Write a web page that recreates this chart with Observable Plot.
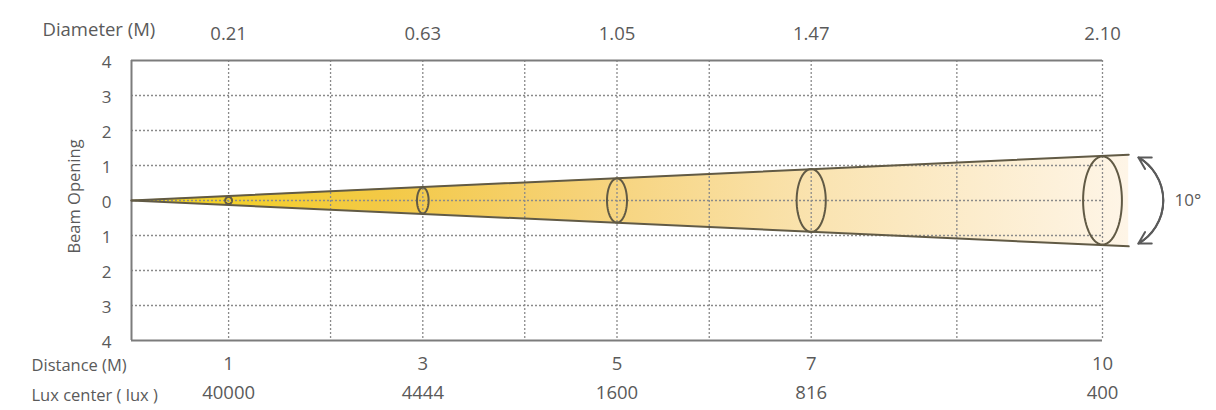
<!DOCTYPE html>
<html><head><meta charset="utf-8">
<script src="https://cdn.jsdelivr.net/npm/d3@7"></script>
<script src="https://cdn.jsdelivr.net/npm/@observablehq/plot@0.6"></script>
<style>body{margin:0;background:#fff} svg{display:block}</style>
</head><body><div id="chart"></div>
<script>
// ---- data ----
const distances = [1, 3, 5, 7, 10];
const diameters = ["0.21", "0.63", "1.05", "1.47", "2.10"];
const luxCenter = ["40000", "4444", "1600", "816", "400"];
const beamTicks = [4, 3, 2, 1, 0, -1, -2, -3, -4];
const gridX = [1, 2.05, 3, 4.05, 5, 5.95, 7, 8.5, 10];
const gridY = [3, 2, 1, 0, -1, -2, -3];
const coneDistance = [0, 10.27];
const coneHalfOpening = [0, 1.31];
const ringDistance = [1, 3, 5, 7, 10];
const ringHalfHeight = [0.1, 0.37, 0.63, 0.9, 1.26];
const ringHalfWidth = [0.035, 0.06, 0.103, 0.15, 0.2];
const beamAngle = "10°";

// ---- derived tables ----
const cone = coneDistance.map((d, i) => ({d, lo: -coneHalfOpening[i], hi: coneHalfOpening[i]}));
const ringPts = [];
ringDistance.forEach((d, i) => {
  for (let k = 0; k <= 64; k++) {
    const t = (k / 64) * 2 * Math.PI;
    ringPts.push({ring: i, x: d + ringHalfWidth[i] * Math.cos(t), y: ringHalfHeight[i] * Math.sin(t)});
  }
});
const arrowEnds = [{x: 10.37, y: 1.23}];

const grey = "#5a5a5a";
const edge = "#615a45";

const chart = Plot.plot({
  width: 1216, height: 410,
  marginLeft: 131, marginRight: 114, marginTop: 60, marginBottom: 70,
  x: {domain: [0, 10], axis: null},
  y: {domain: [-4, 4], axis: null},
  style: {fontFamily: "'Open Sans', sans-serif", color: grey, background: "#fff", overflow: "visible"},
  marks: [
    Plot.areaY(cone, {x: "d", y1: "lo", y2: "hi", fill: "url(#beamGrad)"}),
    Plot.ruleX(gridX, {stroke: "#8a8a8a", strokeWidth: 1.3, strokeDasharray: "2,2"}),
    Plot.ruleY(gridY, {stroke: "#8a8a8a", strokeWidth: 1.3, strokeDasharray: "2,2"}),
    Plot.ruleY([4, -4], {stroke: "#7c7c7c", strokeWidth: 2}),
    Plot.ruleX([0], {stroke: "#7c7c7c", strokeWidth: 2}),
    Plot.line(cone, {x: "d", y: "hi", stroke: edge, strokeWidth: 2}),
    Plot.line(cone, {x: "d", y: "lo", stroke: edge, strokeWidth: 2}),
    Plot.line(ringPts, {x: "x", y: "y", z: "ring", stroke: edge, strokeWidth: 2}),
    Plot.arrow(arrowEnds, {x1: "x", y1: d => -d.y, x2: "x", y2: "y", bend: -60, stroke: grey, strokeWidth: 2, headLength: 10}),
    Plot.arrow(arrowEnds, {x1: "x", y1: "y", x2: "x", y2: d => -d.y, bend: 60, stroke: grey, strokeWidth: 2, headLength: 10}),
    Plot.text([beamAngle], {x: 10.88, y: 0, text: d => d, fontSize: 17, fill: grey}),
    // left axis
    Plot.text(beamTicks, {y: d => d, text: d => String(Math.abs(d)), frameAnchor: "left", dx: -20, dy: 2, textAnchor: "end", fontSize: 17, fill: grey}),
    Plot.text(["Beam Opening"], {frameAnchor: "left", dx: -57, dy: -4, rotate: -90, textAnchor: "middle", text: d => d, fontSize: 16.5, fill: grey}),
    // top row
    Plot.text(["Diameter (M)"], {frameAnchor: "top-left", dx: -89, dy: -38, textAnchor: "start", text: d => d, fontSize: 18.5, fill: grey}),
    Plot.text(distances, {x: d => d, frameAnchor: "top", dy: -34, text: (d, i) => diameters[i], fontSize: 18.5, fill: grey}),
    // bottom rows
    Plot.text(["Distance (M)"], {frameAnchor: "bottom-left", dx: -100, dy: 30, textAnchor: "start", text: d => d, fontSize: 16.5, fill: grey}),
    Plot.text(distances, {x: d => d, frameAnchor: "bottom", dy: 29, text: d => String(d), fontSize: 18.5, fill: grey}),
    Plot.text(["Lux center ( lux )"], {frameAnchor: "bottom-left", dx: -100, dy: 60, textAnchor: "start", text: d => d, fontSize: 16.5, fill: grey}),
    Plot.text(distances, {x: d => d, frameAnchor: "bottom", dy: 58, text: (d, i) => luxCenter[i], fontSize: 18.5, fill: grey})
  ]
});

const defs = d3.select(chart).insert("defs", ":first-child");
const grad = defs.append("linearGradient").attr("id", "beamGrad")
  .attr("x1", 0).attr("x2", 1).attr("y1", 0).attr("y2", 0);
[[0, "#f2d41c"], [0.25, "#f3c945"], [0.45, "#f6d277"], [0.7, "#fae4b3"], [1, "#fef5e7"]]
  .forEach(([o, c]) => grad.append("stop").attr("offset", o).attr("stop-color", c));

document.getElementById("chart").appendChild(chart);
</script>
</body></html>
